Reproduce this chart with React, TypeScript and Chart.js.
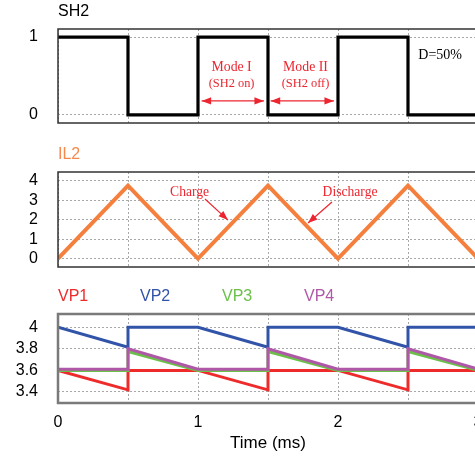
import React, { useEffect, useRef } from "react";
import { Chart, registerables } from "chart.js";

Chart.register(...registerables);

// ---------- data ----------
const timeTicks = [0, 0.5, 1, 1.5, 2, 2.5, 3];

const sh2Time = [0, 0.5, 0.5, 1, 1, 1.5, 1.5, 2, 2, 2.5, 2.5, 3];
const sh2Values = [1, 1, 0, 0, 1, 1, 0, 0, 1, 1, 0, 0];
const sh2Ticks = [0, 1];

const il2Time = [0, 0.5, 1, 1.5, 2, 2.5, 3];
const il2Values = [0, 3.75, 0, 3.75, 0, 3.75, 0];
const il2Ticks = [0, 1, 2, 3, 4];

const vpTime = [0, 0.5, 0.5, 1, 1, 1.5, 1.5, 2, 2, 2.5, 2.5, 3];
const vp1Values = [3.6, 3.42, 3.6, 3.6, 3.6, 3.42, 3.6, 3.6, 3.6, 3.42, 3.6, 3.6];
const vp2Values = [4.0, 3.815, 4.0, 4.0, 4.0, 3.815, 4.0, 4.0, 4.0, 3.815, 4.0, 4.0];
const vp3Values = [3.6, 3.6, 3.775, 3.6, 3.6, 3.6, 3.775, 3.6, 3.6, 3.6, 3.775, 3.6];
const vp4Values = [3.612, 3.612, 3.8, 3.612, 3.612, 3.612, 3.8, 3.612, 3.612, 3.612, 3.8, 3.612];
const vpTicks = [3.4, 3.6, 3.8, 4];

// ---------- styles ----------
const SANS = "'Liberation Sans', Arial, sans-serif";
const SERIF = "'Liberation Serif', 'Times New Roman', serif";
const RED = "#ee2a2a";
const ANN_RED = "#ec2630";

Chart.defaults.font.family = SANS;

const pts = (t: number[], v: number[]) => t.map((x, i) => ({ x, y: v[i] }));

type Ann =
  | { kind: "text"; x: number; y: number; text: string; size: number; color: string }
  | { kind: "arrow"; x1: number; y1: number; x2: number; y2: number; both: boolean; color: string };

const sh2Annotations: Ann[] = [
  { kind: "text", x: 1.24, y: 0.61, text: "Mode I", size: 13.8, color: ANN_RED },
  { kind: "text", x: 1.24, y: 0.4, text: "(SH2 on)", size: 12.4, color: ANN_RED },
  { kind: "text", x: 1.768, y: 0.61, text: "Mode II", size: 13.8, color: ANN_RED },
  { kind: "text", x: 1.768, y: 0.4, text: "(SH2 off)", size: 12.4, color: ANN_RED },
  { kind: "arrow", x1: 1.026, y1: 0.18, x2: 1.471, y2: 0.18, both: true, color: ANN_RED },
  { kind: "arrow", x1: 1.519, y1: 0.18, x2: 1.971, y2: 0.18, both: true, color: ANN_RED },
  { kind: "text", x: 2.73, y: 0.77, text: "D=50%", size: 14, color: "#000" },
];

const il2Annotations: Ann[] = [
  { kind: "text", x: 0.94, y: 3.42, text: "Charge", size: 13.6, color: ANN_RED },
  { kind: "arrow", x1: 1.05, y1: 3.06, x2: 1.214, y2: 1.98, both: false, color: ANN_RED },
  { kind: "text", x: 2.086, y: 3.41, text: "Discharge", size: 13.6, color: ANN_RED },
  { kind: "arrow", x1: 1.957, y1: 2.91, x2: 1.786, y2: 1.83, both: false, color: ANN_RED },
];

function drawHead(ctx: CanvasRenderingContext2D, x: number, y: number, a: number) {
  const L = 9.5, W = 3.6;
  const c = Math.cos(a), s = Math.sin(a);
  ctx.beginPath();
  ctx.moveTo(x, y);
  ctx.lineTo(x - L * c + W * s, y - L * s - W * c);
  ctx.lineTo(x - L * c - W * s, y - L * s + W * c);
  ctx.closePath();
  ctx.fill();
}

const annotationPlugin = {
  id: "panelAnnotations",
  afterDatasetsDraw(chart: any, _a: any, opts: any) {
    const list: Ann[] = opts.items || [];
    const { ctx, scales } = chart;
    const xs = scales.x, ys = scales.y;
    ctx.save();
    for (const a of list) {
      if (a.kind === "text") {
        ctx.font = `${a.size}px ${SERIF}`;
        ctx.fillStyle = a.color;
        ctx.textAlign = "center";
        ctx.textBaseline = "middle";
        ctx.fillText(a.text, xs.getPixelForValue(a.x), ys.getPixelForValue(a.y));
      } else {
        const x1 = xs.getPixelForValue(a.x1), y1 = ys.getPixelForValue(a.y1);
        const x2 = xs.getPixelForValue(a.x2), y2 = ys.getPixelForValue(a.y2);
        const ang = Math.atan2(y2 - y1, x2 - x1);
        ctx.strokeStyle = a.color;
        ctx.fillStyle = a.color;
        ctx.lineWidth = 1.2;
        ctx.beginPath();
        ctx.moveTo(x1, y1);
        ctx.lineTo(x2, y2);
        ctx.stroke();
        drawHead(ctx, x2, y2, ang);
        if (a.both) drawHead(ctx, x1, y1, ang + Math.PI);
      }
    }
    ctx.restore();
  },
};

const framePlugin = {
  id: "panelFrame",
  afterDraw(chart: any, _a: any, opts: any) {
    const { ctx, chartArea } = chart;
    const { left, top, right, bottom } = chartArea;
    ctx.save();
    ctx.strokeStyle = opts.color || "#333";
    ctx.lineWidth = opts.width || 1.5;
    ctx.strokeRect(left, top, right - left, bottom - top);
    // labels above the panel, taken from the datasets
    ctx.font = `16px ${SANS}`;
    ctx.textAlign = "left";
    ctx.textBaseline = "alphabetic";
    chart.data.datasets.forEach((ds: any, i: number) => {
      ctx.fillStyle = ds.labelColor || ds.borderColor;
      ctx.fillText(ds.label, left + i * 82, top - 13);
    });
    ctx.restore();
  },
};

const zeroPad = (s: any) => {
  s.paddingTop = 0;
  s.paddingBottom = 0;
  s.paddingLeft = 0;
  s.paddingRight = 0;
};

function makeOptions(p: {
  yMin: number;
  yMax: number;
  yTicks: number[];
  padTop: number;
  xHeight: number;
  showX: boolean;
  anns: Ann[];
  frameColor: string;
  frameWidth: number;
}) {
  const gridColor = "#a8a8a8";
  return {
    responsive: false,
    animation: false,
    devicePixelRatio: 1,
    layout: { padding: { top: p.padTop, right: 32, left: 0, bottom: 0 } },
    plugins: {
      legend: { display: false },
      tooltip: { enabled: false },
      title: { display: false },
      panelAnnotations: { items: p.anns },
      panelFrame: { color: p.frameColor, width: p.frameWidth },
    },
    elements: { point: { radius: 0 }, line: { tension: 0 } },
    scales: {
      x: {
        type: "linear",
        min: 0,
        max: 3,
        afterBuildTicks: (s: any) => {
          s.ticks = timeTicks.map((v) => ({ value: v }));
        },
        afterFit: (s: any) => {
          s.height = p.xHeight;
          zeroPad(s);
        },
        ticks: {
          display: p.showX,
          autoSkip: false,
          maxRotation: 0,
          padding: 10,
          color: "#000",
          font: { size: 16, family: SANS },
          callback: (v: any) => (Number.isInteger(v) ? String(v) : ""),
        },
        grid: { color: gridColor, lineWidth: 1, drawTicks: false },
        border: { display: false, dash: [2, 2] },
        title: {
          display: p.showX,
          text: "Time (ms)",
          color: "#000",
          font: { size: 17, family: SANS },
          padding: { top: 0, bottom: 7 },
        },
      },
      y: {
        type: "linear",
        min: p.yMin,
        max: p.yMax,
        afterBuildTicks: (s: any) => {
          s.ticks = p.yTicks.map((v) => ({ value: v }));
        },
        afterFit: (s: any) => {
          s.width = 58;
          zeroPad(s);
        },
        ticks: {
          padding: 20,
          color: "#000",
          font: { size: 16, family: SANS },
          callback: (v: any) => String(v),
        },
        grid: { color: gridColor, lineWidth: 1, drawTicks: false },
        border: { display: false, dash: [2, 2] },
      },
    },
  };
}

const W = 510;

export default function App() {
  const r1 = useRef<HTMLCanvasElement>(null);
  const r2 = useRef<HTMLCanvasElement>(null);
  const r3 = useRef<HTMLCanvasElement>(null);

  useEffect(() => {
    const plugins = [annotationPlugin, framePlugin];
    const c1 = new Chart(r1.current!, {
      type: "line",
      data: {
        datasets: [
          {
            label: "SH2",
            data: pts(sh2Time, sh2Values),
            borderColor: "#000",
            borderWidth: 3.2,
          } as any,
        ],
      },
      options: makeOptions({
        yMin: -0.103,
        yMax: 1.103,
        yTicks: sh2Ticks,
        padTop: 29,
        xHeight: 7,
        showX: false,
        anns: sh2Annotations,
        frameColor: "#333",
        frameWidth: 1.5,
      }) as any,
      plugins,
    });
    const c2 = new Chart(r2.current!, {
      type: "line",
      data: {
        datasets: [
          {
            label: "IL2",
            data: pts(il2Time, il2Values),
            borderColor: "#f5803e",
            labelColor: "#f58a4f",
            borderWidth: 4,
          } as any,
        ],
      },
      options: makeOptions({
        yMin: -0.43,
        yMax: 4.45,
        yTicks: il2Ticks,
        padTop: 42,
        xHeight: 5,
        showX: false,
        anns: il2Annotations,
        frameColor: "#333",
        frameWidth: 1.5,
      }) as any,
      plugins,
    });
    const c3 = new Chart(r3.current!, {
      type: "line",
      data: {
        datasets: [
          { label: "VP1", data: pts(vpTime, vp1Values), borderColor: RED, borderWidth: 3, order: 3 },
          { label: "VP2", data: pts(vpTime, vp2Values), borderColor: "#3153a8", borderWidth: 3, order: 2 },
          { label: "VP3", data: pts(vpTime, vp3Values), borderColor: "#6cc04a", borderWidth: 3, order: 1 },
          { label: "VP4", data: pts(vpTime, vp4Values), borderColor: "#b058a8", borderWidth: 3, order: 0 },
        ] as any,
      },
      options: makeOptions({
        yMin: 3.298,
        yMax: 4.123,
        yTicks: vpTicks,
        padTop: 42,
        xHeight: 58,
        showX: true,
        anns: [],
        frameColor: "#7a7a7a",
        frameWidth: 2.5,
      }) as any,
      plugins,
    });
    return () => {
      c1.destroy();
      c2.destroy();
      c3.destroy();
    };
  }, []);

  const cs = (top: number): React.CSSProperties => ({
    position: "absolute",
    left: 0,
    top,
    display: "block",
  });

  return (
    <div
      style={{
        position: "fixed",
        left: 0,
        top: 0,
        width: 475,
        height: 461,
        overflow: "hidden",
        background: "#fff",
      }}
    >
      <canvas ref={r1} width={W} height={130} style={cs(0)} />
      <canvas ref={r2} width={W} height={142} style={cs(130)} />
      <canvas ref={r3} width={W} height={189} style={cs(272)} />
    </div>
  );
}
